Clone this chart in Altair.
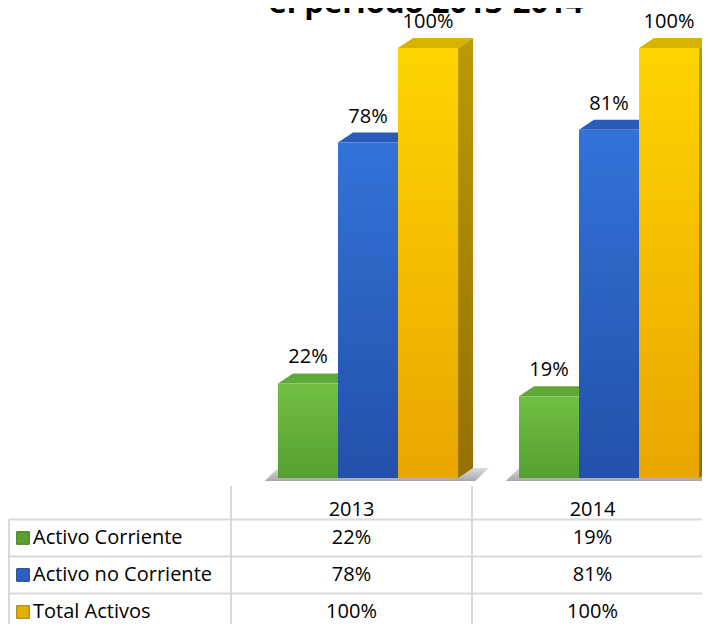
import altair as alt
import pandas as pd

# ---------------- data ----------------
years = ["2013", "2014"]
series = ["Activo Corriente", "Activo no Corriente", "Total Activos"]
val_corriente = [22, 19]
val_no_corriente = [78, 81]
val_total = [100, 100]
values = [val_corriente, val_no_corriente, val_total]
title_text = "el periodo 2013-2014"

# ---------------- layout ----------------
W, H = 694, 616
COL_PX = 241.0          # px per year column
X0_PX = 343.5           # chart-x of first year column centre
X_DOM = [(0 - X0_PX) / COL_PX, (W - X0_PX) / COL_PX]
PX_PER_PCT = 4.3
BASE_PX = 470.0
Y_DOM = [-(H - BASE_PX) / PX_PER_PCT, BASE_PX / PX_PER_PCT]
ROW_PX = 37.0
ROW0_PX = 493.0         # chart-y of row index 0
R_DOM = [-ROW0_PX / ROW_PX, (H - ROW0_PX) / ROW_PX]

OFF = -73.5 / COL_PX     # front-left of first bar relative to column centre
BW = 60.0 / COL_PX       # bar width
DX = 15.0 / COL_PX       # 3D depth x
DY = 10.0 / PX_PER_PCT   # 3D depth y
LABEL_GAP = 26.0 / PX_PER_PCT

FONT = "Open Sans"
FS = 20

front_grad = [("#72bf44", "#55a030"), ("#3273d8", "#2350aa"), ("#ffd400", "#e9a600")]
side_grad = [("#428524", "#2f6416"), ("#1f4a98", "#173a78"), ("#bc9a00", "#967000")]
top_col = ["#5ea938", "#2b5bb8", "#d6b300"]
legend_col = ["#5aa12e", "#2e5fc0", "#e2b000"]

xs = alt.Scale(domain=X_DOM, nice=False, zero=False)
ys = alt.Scale(domain=Y_DOM, nice=False, zero=False)
rs = alt.Scale(domain=R_DOM, nice=False, zero=False, reverse=True)


def grad(c1, c2):
    return alt.LinearGradient(
        gradient="linear",
        stops=[alt.GradientStop(color=c1, offset=0), alt.GradientStop(color=c2, offset=1)],
        x1=0, x2=0, y1=0, y2=1,
    )


layers = []

# floor shadow under each group
shadow_rows = []
for i, yr in enumerate(years):
    gl = i + OFF
    gr = gl + 3 * BW + DX
    shadow_rows.append({"g": yr, "y": -0.7, "x": gl - 0.055, "x2": gr + 0.01})
    shadow_rows.append({"g": yr, "y": DY, "x": gl, "x2": gr + 0.065})
layers.append(
    alt.Chart(pd.DataFrame(shadow_rows)).mark_area(
        orient="horizontal", color=grad("#d0d0d0", "#8a8a8a"), opacity=0.75
    ).encode(
        y=alt.Y("y:Q", scale=ys, axis=None),
        x=alt.X("x:Q", scale=xs, axis=None),
        x2="x2:Q",
        detail="g:N",
    )
)

label_rows = []
for j, s in enumerate(series):
    front, side, top = [], [], []
    for i, yr in enumerate(years):
        v = values[j][i]
        left = i + OFF + j * BW
        right = left + BW
        bid = f"{s}-{yr}"
        front.append({"bar": bid, "x": left, "x2": right, "y": 0, "y2": v})
        side.append({"bar": bid, "x": right, "y": v, "y2": 0})
        side.append({"bar": bid, "x": right + DX, "y": v + DY, "y2": DY})
        top.append({"bar": bid, "y": v, "x": left, "x2": right})
        top.append({"bar": bid, "y": v + DY, "x": left + DX, "x2": right + DX})
        label_rows.append({"x": (left + right) / 2, "y": v + LABEL_GAP, "t": f"{v}%"})
    layers.append(
        alt.Chart(pd.DataFrame(side)).mark_area(color=grad(*side_grad[j])).encode(
            x=alt.X("x:Q", scale=xs, axis=None),
            y=alt.Y("y:Q", scale=ys, axis=None),
            y2="y2:Q",
            detail="bar:N",
        )
    )
    layers.append(
        alt.Chart(pd.DataFrame(top)).mark_area(orient="horizontal", color=top_col[j]).encode(
            y=alt.Y("y:Q", scale=ys, axis=None),
            x=alt.X("x:Q", scale=xs, axis=None),
            x2="x2:Q",
            detail="bar:N",
        )
    )
    layers.append(
        alt.Chart(pd.DataFrame(front)).mark_rect(color=grad(*front_grad[j])).encode(
            x=alt.X("x:Q", scale=xs, axis=None),
            x2="x2:Q",
            y=alt.Y("y:Q", scale=ys, axis=None),
            y2="y2:Q",
        )
    )

layers.append(
    alt.Chart(pd.DataFrame(label_rows)).mark_text(
        font=FONT, fontSize=FS, color="#000000", baseline="middle"
    ).encode(
        x=alt.X("x:Q", scale=xs, axis=None),
        y=alt.Y("y:Q", scale=ys, axis=None),
        text="t:N",
    )
)

# ---------------- table ----------------
LEFT_BORDER = (1 - X0_PX) / COL_PX
V_TOP = (478 - ROW0_PX) / ROW_PX
hl = pd.DataFrame({"r": [0.5, 1.5, 2.5], "x": LEFT_BORDER, "x2": X_DOM[1]})
vl = pd.DataFrame({"x": [-0.5, 0.5, LEFT_BORDER], "r": [V_TOP, V_TOP, 0.5], "r2": R_DOM[1]})
grid_col = "#d9d9d9"
layers.append(
    alt.Chart(hl).mark_rule(color=grid_col, strokeWidth=2).encode(
        x=alt.X("x:Q", scale=xs, axis=None), x2="x2:Q",
        y=alt.Y("r:Q", scale=rs, axis=None),
    )
)
layers.append(
    alt.Chart(vl).mark_rule(color=grid_col, strokeWidth=2).encode(
        x=alt.X("x:Q", scale=xs, axis=None),
        y=alt.Y("r:Q", scale=rs, axis=None), y2="r2:Q",
    )
)

header = pd.DataFrame({"t": years, "x": [float(i) for i in range(len(years))], "r": 0.25})
layers.append(
    alt.Chart(header).mark_text(font=FONT, fontSize=FS, color="#000000", baseline="middle").encode(
        x=alt.X("x:Q", scale=xs, axis=None),
        y=alt.Y("r:Q", scale=rs, axis=None),
        text="t:N",
    )
)

cells = []
for j, s in enumerate(series):
    for i, yr in enumerate(years):
        cells.append({"x": float(i), "r": j + 1, "t": f"{values[j][i]}%"})
layers.append(
    alt.Chart(pd.DataFrame(cells)).mark_text(font=FONT, fontSize=FS, color="#000000", baseline="middle").encode(
        x=alt.X("x:Q", scale=xs, axis=None),
        y=alt.Y("r:Q", scale=rs, axis=None),
        text="t:N",
    )
)

names = pd.DataFrame({"t": series, "r": [1, 2, 3], "x": (33 - 8 - X0_PX) / COL_PX})
layers.append(
    alt.Chart(names).mark_text(font=FONT, fontSize=FS, color="#000000", baseline="middle", align="left").encode(
        x=alt.X("x:Q", scale=xs, axis=None),
        y=alt.Y("r:Q", scale=rs, axis=None),
        text="t:N",
    )
)

keys = pd.DataFrame({"s": series, "r": [1, 2, 3], "x": (23 - 8 - X0_PX) / COL_PX})
layers.append(
    alt.Chart(keys).mark_square(size=160, opacity=1, strokeWidth=1).encode(
        x=alt.X("x:Q", scale=xs, axis=None),
        y=alt.Y("r:Q", scale=rs, axis=None),
        fill=alt.Fill("s:N", scale=alt.Scale(domain=series, range=legend_col), legend=None),
        stroke=alt.Stroke("s:N", scale=alt.Scale(domain=series, range=["#3d7a1c", "#1d3f8a", "#a07a00"]), legend=None),
    )
)

# clipped title (only lower part visible at top edge)
layers.append(
    alt.Chart(pd.DataFrame({"t": [title_text]})).mark_text(
        font=FONT, fontSize=31, fontWeight="bold", color="#000000", baseline="alphabetic"
    ).encode(
        x=alt.value(418), y=alt.value(5), text="t:N"
    )
)

chart = alt.layer(*layers).resolve_scale(y="independent").properties(
    width=W, height=H, padding=0, autosize=alt.AutoSizeParams(type="none")
).configure_view(stroke=None)

chart.save("out.html", embed_options={"renderer": "svg", "actions": False})
